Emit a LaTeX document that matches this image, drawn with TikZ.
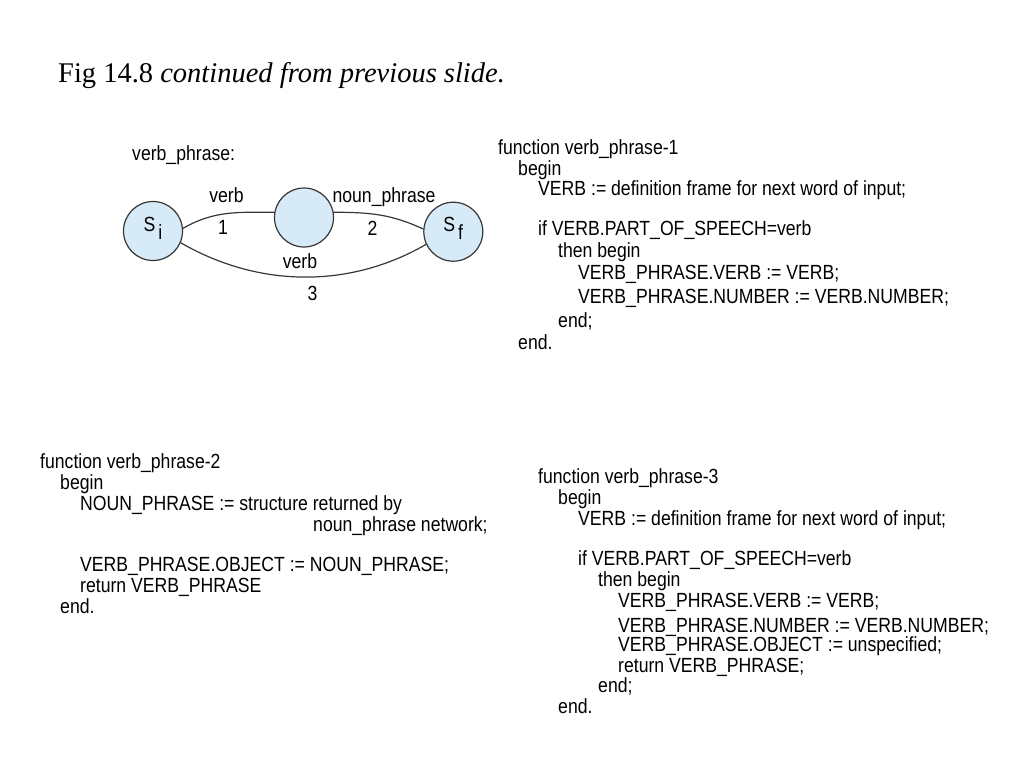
\documentclass[tikz,border=0pt]{standalone}
\usepackage{fontspec}
\setmainfont{Liberation Serif}
\newfontfamily\helv[FakeStretch=0.86]{Liberation Sans}
\definecolor{statefill}{RGB}{214,234,248}
\definecolor{linegray}{RGB}{55,55,55}
\begin{document}
\begin{tikzpicture}[x=1pt,y=-1pt,line join=round,line cap=round,
	code/.style={anchor=base west,inner sep=0pt,font=\helv\fontsize{20.5}{24}\selectfont},
	lab/.style={anchor=base,inner sep=0pt,font=\helv\fontsize{20.5}{24}\selectfont},
	stnode/.style={circle,draw=linegray,fill=statefill,line width=1.2pt,minimum size=59pt,inner sep=0pt,
		text height=15pt,text depth=15pt,font=\helv\fontsize{20.5}{24}\selectfont},
	trans/.style={draw=linegray,line width=1.2pt}]
	\useasboundingbox (0,0) rectangle (1024,768);
	\node[anchor=base west,inner sep=0pt,font=\fontsize{28.5}{34}\selectfont] (title) at (58,82)
		{Fig 14.8 \textit{continued from previous slide.}};
	\node[code] (netname) at (132,160) {verb\_phrase:};
	\node[stnode] (si) at (153,231) {S\hspace{3pt}\raisebox{-8pt}{i}};
	\node[stnode] (mid) at (304,217.5) {};
	\node[stnode] (sf) at (453.3,231.7) {S\hspace{3pt}\raisebox{-8pt}{f}};
	\path[trans]
		(si.5) to[out=30,in=180] (mid.170)
		(mid.10) to[out=0,in=155] (sf.175)
		(si.-23) to[out=-30,in=-150,looseness=0.93] (sf.-155);
	\node[lab] (verba) at (226.5,202.5) {verb};
	\node[lab] (one) at (223,234) {1};
	\node[lab] (nphr) at (384,202) {noun\_phrase};
	\node[lab] (two) at (372.5,235.5) {2};
	\node[lab] (verbb) at (300,268) {verb};
	\node[lab] (three) at (312.5,300) {3};
	\foreach \x/\y/\t [count=\k] in {498/154/function verb\_phrase-1,518/175/begin,
		538/195/VERB := definition frame for next word of input;,
		538/235/if VERB.PART\_OF\_SPEECH=verb,558/257/then begin,
		578/279/VERB\_PHRASE.VERB := VERB;,578/303/VERB\_PHRASE.NUMBER := VERB.NUMBER;,
		558/327/end;,518/349/end.}
		\node[code] (vpa-\k) at (\x,\y) {\t};
	\foreach \x/\y/\t [count=\k] in {40/468/function verb\_phrase-2,60/489/begin,
		80/510/NOUN\_PHRASE := structure returned by,313/531/noun\_phrase network;,
		80/571/VERB\_PHRASE.OBJECT := NOUN\_PHRASE;,80/592/return VERB\_PHRASE,60/613/end.}
		\node[code] (vpb-\k) at (\x,\y) {\t};
	\foreach \x/\y/\t [count=\k] in {538/483/function verb\_phrase-3,558/504/begin,
		578/525/VERB := definition frame for next word of input;,
		578/565/if VERB.PART\_OF\_SPEECH=verb,598/586/then begin,
		618/607/VERB\_PHRASE.VERB := VERB;,618/632/VERB\_PHRASE.NUMBER := VERB.NUMBER;,
		618/651/VERB\_PHRASE.OBJECT := unspecified;,618/672/return VERB\_PHRASE;,
		598/692/end;,558/713/end.}
		\node[code] (vpc-\k) at (\x,\y) {\t};
\end{tikzpicture}
\end{document}
